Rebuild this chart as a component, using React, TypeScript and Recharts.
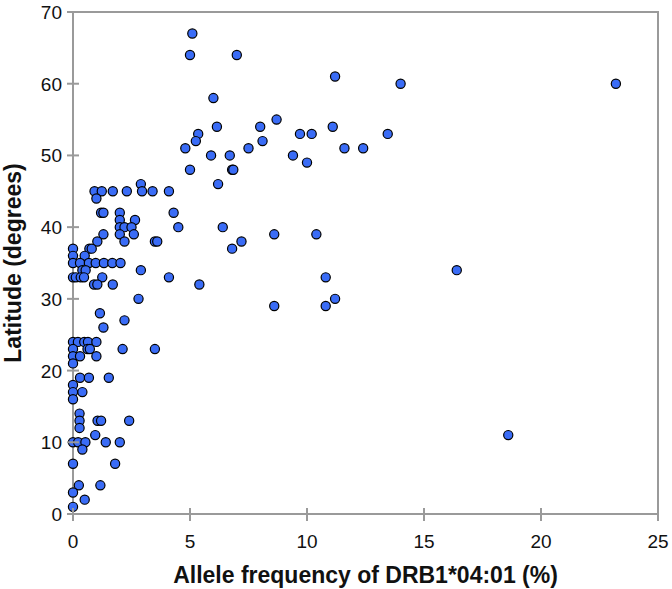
import React from 'react';
import { ScatterChart, Scatter, XAxis, YAxis, ReferenceArea, Label } from 'recharts';

// allele frequency (%) and latitude (degrees), same order
const frequency = [
    5.1, 5.0, 7.0, 11.2, 14.0, 23.2, 6.0, 8.7, 6.15, 8.0, 11.1, 5.35, 9.7, 10.2, 13.45,
    5.25, 8.1, 4.8, 7.5, 11.6, 12.4, 5.9, 6.7, 9.4, 10.0, 5.0, 6.8, 6.85, 6.2, 2.9,
    0.92, 1.23, 1.7, 2.3, 2.95, 3.4, 4.1, 1.0, 1.2, 1.3, 2.0, 4.3, 2.0, 2.65,
    2.0, 2.2, 2.5, 4.5, 6.4, 1.3, 2.0, 2.6, 8.6, 10.4, 1.04, 2.2, 3.5, 3.6, 7.2,
    0, 0.7, 0.8, 6.8, 0, 0.5, 0, 0.3, 0.68, 0.97, 1.32, 1.68, 2.03,
    0.4, 0.54, 2.9, 16.4, 0, 0.12, 0.33, 0.47, 1.25, 4.1, 10.8, 0.9, 1.04, 1.7, 5.4,
    2.8, 11.2, 8.6, 10.8, 1.15, 2.2, 1.3, 0, 0.21, 0.48, 0.64, 1.0,
    0, 0.62, 0.72, 2.12, 3.5, 0, 0.3, 1.0, 0, 0.3, 0.68, 1.53, 0, 0, 0.4, 0,
    0.28, 0.28, 1.05, 1.2, 2.4, 0.28, 0.95, 18.6, 0, 0.22, 0.53, 1.4, 2.0, 0.4,
    0, 1.8, 0.25, 1.17, 0, 0.5, 0,
];
const latitude = [
    67, 64, 64, 61, 60, 60, 58, 55, 54, 54, 54, 53, 53, 53, 53,
    52, 52, 51, 51, 51, 51, 50, 50, 50, 49, 48, 48, 48, 46, 46,
    45, 45, 45, 45, 45, 45, 45, 44, 42, 42, 42, 42, 41, 41,
    40, 40, 40, 40, 40, 39, 39, 39, 39, 39, 38, 38, 38, 38, 38,
    37, 37, 37, 37, 36, 36, 35, 35, 35, 35, 35, 35, 35,
    34, 34, 34, 34, 33, 33, 33, 33, 33, 33, 33, 32, 32, 32, 32,
    30, 30, 29, 29, 28, 27, 26, 24, 24, 24, 24, 24,
    23, 23, 23, 23, 23, 22, 22, 22, 21, 19, 19, 19, 18, 17, 17, 16,
    14, 13, 13, 13, 13, 12, 11, 11, 10, 10, 10, 10, 10, 9,
    7, 7, 4, 4, 3, 2, 1,
];
const xTicks = [0, 5, 10, 15, 20, 25];
const yTicks = [0, 10, 20, 30, 40, 50, 60, 70];

const points = frequency.map((f, i) => ({ x: f, y: latitude[i] }));

const FONT = '"Liberation Sans", Arial, Helvetica, sans-serif';
const AXIS = '#9a9a9a';

const XTick = (props: any) => {
    const { x, y, payload } = props;
    return (
        <g>
            <line x1={x} x2={x} y1={y - 6} y2={y + 7} stroke={AXIS} strokeWidth={2} />
            <text x={x} y={y + 34} textAnchor="middle" fontSize={19} fontFamily={FONT} fill="#111">
                {payload.value}
            </text>
        </g>
    );
};

const YTick = (props: any) => {
    const { x, y, payload } = props;
    return (
        <g>
            <line x1={x - 6} x2={x + 6} y1={y} y2={y} stroke={AXIS} strokeWidth={2} />
            <text x={x - 11} y={y + 7} textAnchor="end" fontSize={19} fontFamily={FONT} fill="#111">
                {payload.value}
            </text>
        </g>
    );
};

const Dot = (props: any) => (
    <circle cx={props.cx} cy={props.cy} r={4.6} fill="#3a6cf6" stroke="#000" strokeWidth={1.2} />
);

export default function App() {
    return (
        <div style={{ position: 'absolute', left: 0, top: 0, background: '#fff' }}>
            <ScatterChart width={672} height={589} margin={{ top: 12, right: 14, left: 13, bottom: 15 }}>
                <ReferenceArea
                    x1={0}
                    x2={25}
                    y1={0}
                    y2={70}
                    fill="none"
                    stroke={AXIS}
                    strokeWidth={2}
                    ifOverflow="visible"
                />
                <XAxis
                    type="number"
                    dataKey="x"
                    domain={[0, 25]}
                    ticks={xTicks}
                    interval={0}
                    tick={<XTick />}
                    tickLine={false}
                    tickSize={0}
                    tickMargin={0}
                    axisLine={{ stroke: AXIS, strokeWidth: 2 }}
                    height={60}
                >
                    <Label
                        content={({ viewBox }: any) => (
                            <text
                                x={viewBox.x + viewBox.width / 2}
                                y={583}
                                textAnchor="middle"
                                fontSize={23}
                                fontWeight="bold"
                                fontFamily={FONT}
                                fill="#111"
                            >
                                Allele frequency of DRB1*04:01 (%)
                            </text>
                        )}
                    />
                </XAxis>
                <YAxis
                    type="number"
                    dataKey="y"
                    domain={[0, 70]}
                    ticks={yTicks}
                    interval={0}
                    tick={<YTick />}
                    tickLine={false}
                    tickSize={0}
                    tickMargin={0}
                    axisLine={{ stroke: AXIS, strokeWidth: 2 }}
                    width={60}
                >
                    <Label
                        content={({ viewBox }: any) => {
                            const cy = viewBox.y + viewBox.height / 2;
                            return (
                                <text
                                    x={21}
                                    y={cy}
                                    transform={`rotate(-90, 21, ${cy})`}
                                    textAnchor="middle"
                                    fontSize={23}
                                    fontWeight="bold"
                                    fontFamily={FONT}
                                    fill="#111"
                                >
                                    Latitude (degrees)
                                </text>
                            );
                        }}
                    />
                </YAxis>
                <Scatter data={points} shape={<Dot />} isAnimationActive={false} />
            </ScatterChart>
        </div>
    );
}
